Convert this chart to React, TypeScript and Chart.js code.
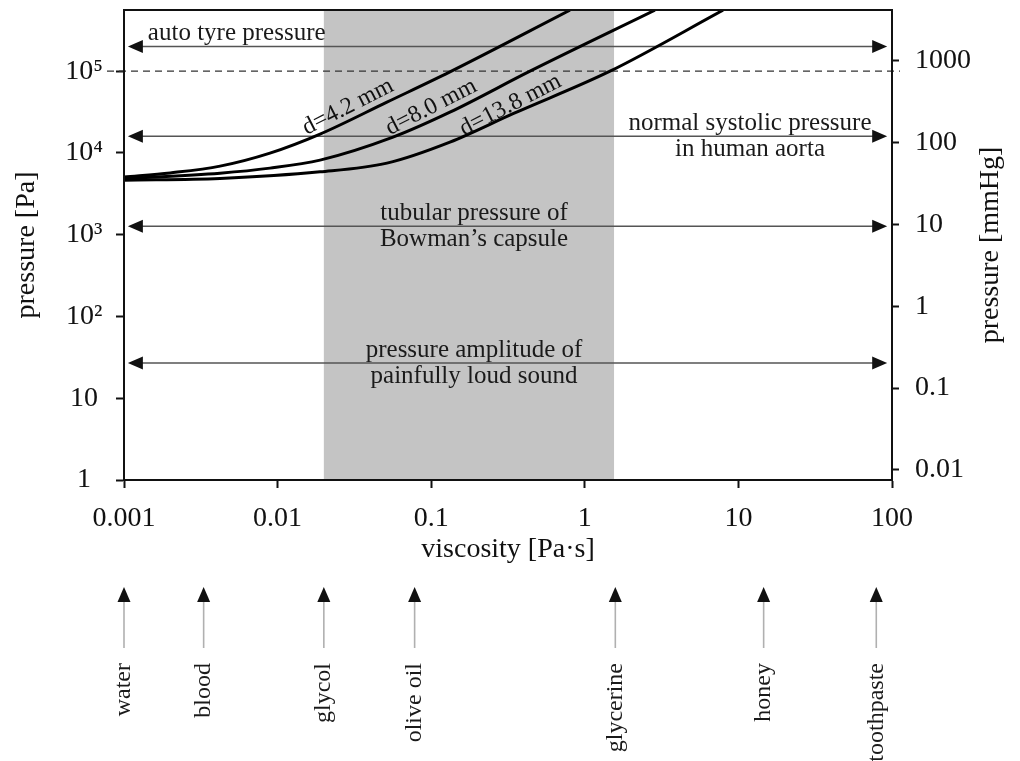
import React, { useEffect, useRef } from 'react';
import { Chart, registerables } from 'chart.js';

Chart.register(...registerables);

// ---------- data ----------
const VISCOSITY_RANGE = [0.001, 100]; // Pa·s
const PRESSURE_RANGE = [1, 5.6e5]; // Pa
const PA_PER_MMHG = 133.322;

const X_TICKS = [0.001, 0.01, 0.1, 1, 10, 100];
const X_TICK_LABELS = ['0.001', '0.01', '0.1', '1', '10', '100'];
const Y_TICKS = [1, 10, 100, 1e3, 1e4, 1e5];
const Y_TICK_LABELS = ['1', '10', '10²', '10³', '10⁴', '10⁵'];
const MMHG_TICKS = [0.01, 0.1, 1, 10, 100, 1000];
const MMHG_TICK_LABELS = ['0.01', '0.1', '1', '10', '100', '1000'];

const CURVE_LABELS = ['d=4.2 mm', 'd=8.0 mm', 'd=13.8 mm'];
const VISC_D42 = [0.001, 0.002, 0.00422, 0.00892, 0.0189, 0.0515, 0.1324, 0.8];
const P_D42 = [5060, 5700, 6900, 9950, 17000, 41800, 98000, 557000];
const VISC_D80 = [0.001, 0.00422, 0.00892, 0.0189, 0.0564, 0.1324, 0.44, 2.86];
const P_D80 = [4850, 5660, 6520, 8170, 15600, 31500, 100000, 557000];
const VISC_D138 = [0.001, 0.00422, 0.0189, 0.0515, 0.1324, 0.341, 1.46, 7.94];
const P_D138 = [4650, 4880, 5870, 7500, 13550, 30200, 100000, 557000];

const GLYCOL_TO_GLYCERINE = [0.02, 1.55]; // shaded viscosity band
const ONE_BAR = 1e5; // dashed reference, Pa

const REF_PRESSURES = [2e5, 1.6e4, 1.27e3, 27];
const REF_TEXTS = [
  ['auto tyre pressure'],
  ['normal systolic pressure', 'in human aorta'],
  ['tubular pressure of', 'Bowman’s capsule'],
  ['pressure amplitude of', 'painfully loud sound'],
];

const MATERIALS = ['water', 'blood', 'glycol', 'olive oil', 'glycerine', 'honey', 'toothpaste'];
const MATERIAL_VISC = [0.001, 0.0033, 0.02, 0.078, 1.58, 14.6, 79];

// ---------- layout (positions / styles) ----------
const SERIF = '"Liberation Serif", "Times New Roman", serif';
const REF_ARROW_SPAN = [0.00106, 93];
const REF_TEXT_X = [0.00143, 11.9, 0.19, 0.19];
const REF_TEXT_ALIGN: CanvasTextAlign[] = ['left', 'center', 'center', 'center'];
const CURVE_LABEL_POS = [
  [0.0287, 36600],
  [0.1, 36300],
  [0.328, 38400],
];

function arrowHead(ctx: CanvasRenderingContext2D, x: number, y: number, dir: string, len = 15, half = 6.5) {
  ctx.beginPath();
  if (dir === 'left') {
    ctx.moveTo(x, y);
    ctx.lineTo(x + len, y - half);
    ctx.lineTo(x + len, y + half);
  } else if (dir === 'right') {
    ctx.moveTo(x, y);
    ctx.lineTo(x - len, y - half);
    ctx.lineTo(x - len, y + half);
  } else {
    ctx.moveTo(x, y);
    ctx.lineTo(x - half, y + len);
    ctx.lineTo(x + half, y + len);
  }
  ctx.closePath();
  ctx.fill();
}

const annotationPlugin = {
  id: 'viscosityAnnotations',
  beforeDatasetsDraw(chart: any) {
    const { ctx, chartArea: a, scales } = chart;
    const xs = scales.x;
    const ys = scales.y;
    ctx.save();
    // shaded band
    const sx0 = xs.getPixelForValue(GLYCOL_TO_GLYCERINE[0]);
    const sx1 = xs.getPixelForValue(GLYCOL_TO_GLYCERINE[1]);
    ctx.fillStyle = '#c4c4c4';
    ctx.fillRect(sx0, a.top, sx1 - sx0, a.bottom - a.top);
    // dashed 1 bar line
    const dy = ys.getPixelForValue(ONE_BAR);
    ctx.strokeStyle = '#333';
    ctx.lineWidth = 1.3;
    ctx.setLineDash([7, 5]);
    ctx.beginPath();
    ctx.moveTo(a.left - 17, dy);
    ctx.lineTo(a.right + 8, dy);
    ctx.stroke();
    ctx.setLineDash([]);
    // reference arrows
    const ax0 = xs.getPixelForValue(REF_ARROW_SPAN[0]);
    const ax1 = xs.getPixelForValue(REF_ARROW_SPAN[1]);
    REF_PRESSURES.forEach((p, i) => {
      const py = ys.getPixelForValue(p);
      ctx.strokeStyle = '#555';
      ctx.lineWidth = 1.6;
      ctx.beginPath();
      ctx.moveTo(ax0 + 10, py);
      ctx.lineTo(ax1 - 10, py);
      ctx.stroke();
      ctx.fillStyle = '#111';
      arrowHead(ctx, ax0, py, 'left');
      arrowHead(ctx, ax1, py, 'right');
      ctx.fillStyle = '#1a1a1a';
      ctx.font = `25px ${SERIF}`;
      ctx.textAlign = REF_TEXT_ALIGN[i];
      ctx.textBaseline = 'alphabetic';
      const tx = xs.getPixelForValue(REF_TEXT_X[i]);
      const lines = REF_TEXTS[i];
      if (lines.length === 1) {
        ctx.fillText(lines[0], tx, py - 7);
      } else {
        ctx.fillText(lines[0], tx, py - 6);
        ctx.fillText(lines[1], tx, py + 20);
      }
    });
    ctx.restore();
  },
  afterDatasetsDraw(chart: any) {
    const { ctx, chartArea: a, scales } = chart;
    const xs = scales.x;
    const ys = scales.y;
    ctx.save();
    // curve labels
    ctx.fillStyle = '#111';
    ctx.font = `24px ${SERIF}`;
    ctx.textAlign = 'center';
    ctx.textBaseline = 'middle';
    CURVE_LABELS.forEach((lab, i) => {
      const px = xs.getPixelForValue(CURVE_LABEL_POS[i][0]);
      const py = ys.getPixelForValue(CURVE_LABEL_POS[i][1]);
      ctx.save();
      ctx.translate(px, py);
      ctx.rotate((-27 * Math.PI) / 180);
      ctx.fillText(lab, 0, 0);
      ctx.restore();
    });
    // frame
    ctx.strokeStyle = '#111';
    ctx.lineWidth = 2;
    ctx.strokeRect(a.left, a.top, a.right - a.left, a.bottom - a.top);
    ctx.restore();
  },
  afterDraw(chart: any) {
    const { ctx, chartArea: a, scales } = chart;
    const xs = scales.x;
    ctx.save();
    // right axis title
    ctx.fillStyle = '#111';
    ctx.font = `28px ${SERIF}`;
    ctx.textAlign = 'center';
    ctx.textBaseline = 'alphabetic';
    ctx.translate(998, (a.top + a.bottom) / 2);
    ctx.rotate(-Math.PI / 2);
    ctx.fillText('pressure [mmHg]', 0, 0);
    ctx.restore();

    // material markers
    ctx.save();
    MATERIALS.forEach((m, i) => {
      const px = xs.getPixelForValue(MATERIAL_VISC[i]);
      ctx.strokeStyle = '#b0b0b0';
      ctx.lineWidth = 1.6;
      ctx.beginPath();
      ctx.moveTo(px, 600);
      ctx.lineTo(px, 648);
      ctx.stroke();
      ctx.fillStyle = '#111';
      arrowHead(ctx, px, 587, 'up', 15, 6.5);
      ctx.save();
      ctx.translate(px, 663);
      ctx.rotate(-Math.PI / 2);
      ctx.font = `24px ${SERIF}`;
      ctx.textAlign = 'right';
      ctx.textBaseline = 'middle';
      ctx.fillStyle = '#1a1a1a';
      ctx.fillText(m, 0, 0);
      ctx.restore();
    });
    ctx.restore();
  },
};

export default function App() {
  const canvasRef = useRef<HTMLCanvasElement | null>(null);

  useEffect(() => {
    if (!canvasRef.current) return;
    const curveVisc = [VISC_D42, VISC_D80, VISC_D138];
    const curveP = [P_D42, P_D80, P_D138];
    const tickFont = { family: SERIF, size: 28 };
    const noVertPad = (s: any, w: number) => {
      s.width = w;
      s.paddingTop = 0;
      s.paddingBottom = 0;
    };
    const chart = new Chart(canvasRef.current, {
      type: 'line',
      data: {
        datasets: CURVE_LABELS.map((label, i) => ({
          label,
          data: curveVisc[i].map((v, j) => ({ x: v, y: curveP[i][j] })),
          borderColor: '#000',
          backgroundColor: '#000',
          borderWidth: 3,
          pointRadius: 0,
          fill: false,
          cubicInterpolationMode: 'monotone' as const,
          clip: 0,
        })),
      },
      options: {
        animation: false,
        responsive: true,
        maintainAspectRatio: false,
        layout: { padding: { top: 10, left: 0, right: 0, bottom: 191 } },
        plugins: { legend: { display: false }, tooltip: { enabled: false } },
        scales: {
          x: {
            type: 'logarithmic',
            position: 'bottom',
            min: VISCOSITY_RANGE[0],
            max: VISCOSITY_RANGE[1],
            afterBuildTicks: (s: any) => {
              s.ticks = X_TICKS.map((v) => ({ value: v }));
            },
            afterFit: (s: any) => {
              s.height = 90;
              s.paddingLeft = 0;
              s.paddingRight = 0;
            },
            ticks: {
              autoSkip: false,
              maxRotation: 0,
              minRotation: 0,
              padding: 14,
              color: '#111',
              font: tickFont,
              callback: (v: any) => X_TICK_LABELS[X_TICKS.indexOf(Number(v))] ?? '',
            },
            grid: { drawOnChartArea: false, drawTicks: true, tickLength: 8, tickWidth: 2, tickColor: '#111' },
            border: { display: true, color: '#111', width: 2 },
            title: {
              display: true,
              text: 'viscosity [Pa·s]',
              color: '#111',
              font: { family: SERIF, size: 28 },
              padding: { top: 0, bottom: 4 },
            },
          },
          y: {
            type: 'logarithmic',
            position: 'left',
            min: PRESSURE_RANGE[0],
            max: PRESSURE_RANGE[1],
            afterBuildTicks: (s: any) => {
              s.ticks = Y_TICKS.map((v) => ({ value: v }));
            },
            afterFit: (s: any) => noVertPad(s, 124),
            ticks: {
              autoSkip: false,
              crossAlign: 'center',
              padding: 13,
              color: '#111',
              font: tickFont,
              callback: (v: any) => Y_TICK_LABELS[Y_TICKS.indexOf(Number(v))] ?? '',
            },
            grid: { drawOnChartArea: false, drawTicks: true, tickLength: 8, tickWidth: 2, tickColor: '#111' },
            border: { display: true, color: '#111', width: 2 },
            title: {
              display: true,
              text: 'pressure [Pa]',
              color: '#111',
              font: { family: SERIF, size: 28 },
              padding: { top: 10, bottom: 0 },
            },
          },
          y2: {
            type: 'logarithmic',
            position: 'right',
            min: PRESSURE_RANGE[0] / PA_PER_MMHG,
            max: PRESSURE_RANGE[1] / PA_PER_MMHG,
            afterBuildTicks: (s: any) => {
              s.ticks = MMHG_TICKS.map((v) => ({ value: v }));
            },
            afterFit: (s: any) => noVertPad(s, 128),
            ticks: {
              autoSkip: false,
              padding: 16,
              color: '#111',
              font: tickFont,
              callback: (v: any) => MMHG_TICK_LABELS[MMHG_TICKS.indexOf(Number(v))] ?? '',
            },
            grid: { drawOnChartArea: false, drawTicks: true, tickLength: 7, tickWidth: 2, tickColor: '#111' },
            border: { display: true, color: '#111', width: 2 },
          },
        },
      } as any,
      plugins: [annotationPlugin],
    });
    return () => chart.destroy();
  }, []);

  return (
    <div style={{ position: 'absolute', left: 0, top: 0, width: 1020, height: 761, background: '#fff' }}>
      <canvas ref={canvasRef} />
    </div>
  );
}
